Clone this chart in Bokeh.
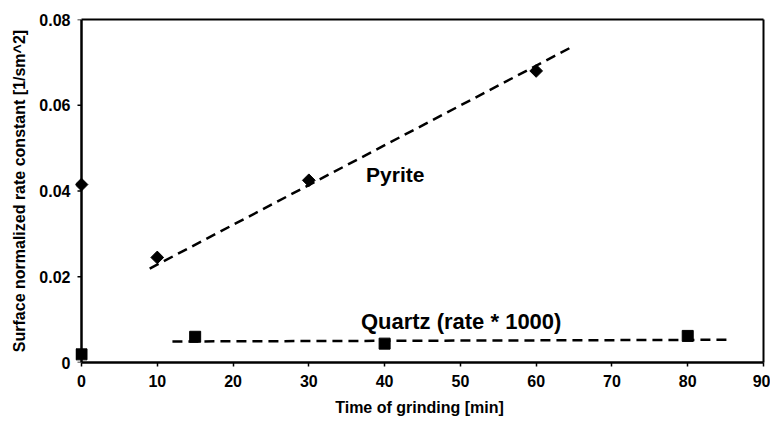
import math
from bokeh.plotting import figure
from bokeh.models import Range1d, Label, FixedTicker, LinearAxis, Span
from bokeh.embed import file_html
from bokeh.resources import INLINE

# Grinding time [min] and surface-normalized rate constants
pyrite_t = [0, 10, 30, 60]
pyrite_k = [0.0415, 0.0245, 0.0425, 0.068]

quartz_t = [0, 15, 40, 80]
quartz_k = [0.0019, 0.0060, 0.0044, 0.0062]

# Linear trend lines (end points)
pyrite_fit_t = [9, 64.6]
pyrite_fit_k = [0.0219, 0.0735]
quartz_fit_t = [12, 85.5]
quartz_fit_k = [0.0049, 0.0053]

x_ticks = [0, 10, 20, 30, 40, 50, 60, 70, 80, 90]
y_ticks = [0, 0.02, 0.04, 0.06, 0.08]
y_tick_labels = {0: "0", 0.02: "0.02", 0.04: "0.04", 0.06: "0.06", 0.08: "0.08"}

X_MIN, X_MAX = 0, 90
Y_MIN, Y_MAX = 0, 0.08

FONT = "Liberation Sans"

# The frame reaches a little left of t = 0 so the markers sitting on the
# vertical axis are drawn whole; the drawn axes start at t = 0.
p = figure(width=770, height=421, output_backend="svg", toolbar_location=None,
           x_range=Range1d(-0.792, X_MAX), y_range=Range1d(Y_MIN, Y_MAX),
           min_border_left=75, min_border_right=7, min_border_top=19, min_border_bottom=59)
p.background_fill_color = "white"
p.border_fill_color = "white"
p.outline_line_color = None
p.xgrid.visible = False
p.ygrid.visible = False

for ax in (p.xaxis[0], p.yaxis[0]):
    ax.axis_line_color = "black"
    ax.axis_line_width = 2.5
    ax.major_tick_line_color = "black"
    ax.major_tick_line_width = 1.5
    ax.major_tick_out = 4
    ax.major_tick_in = 0
    ax.minor_tick_line_color = None
    ax.major_label_text_font = FONT
    ax.major_label_text_font_style = "bold"
    ax.major_label_text_font_size = "16px"
    ax.major_label_text_color = "black"
    ax.axis_label_text_font = FONT
    ax.axis_label_text_font_style = "bold"
    ax.axis_label_text_color = "black"

p.xaxis.bounds = (X_MIN, X_MAX)
p.xaxis.ticker = FixedTicker(ticks=x_ticks)
p.xaxis.major_label_standoff = 8
p.xaxis.axis_label = "Time of grinding [min]"
p.xaxis.axis_label_text_font_size = "16px"
p.xaxis.axis_label_standoff = 9

# Left axis carries only the tick labels and the title
p.yaxis.ticker = FixedTicker(ticks=y_ticks)
p.yaxis.major_label_overrides = y_tick_labels
p.yaxis.axis_line_color = None
p.yaxis.major_tick_line_color = None
p.yaxis.major_tick_out = 0
p.yaxis.major_label_standoff = 5
p.yaxis.axis_label = "Surface normalized rate constant [1/sm^2]"
p.yaxis.axis_label_text_font_size = "16px"
p.yaxis.axis_label_standoff = 8

# Vertical axis line at t = 0 with outward ticks
p.add_layout(Span(location=X_MIN, dimension="height", line_color="black", line_width=2.5))
p.ray(x=[X_MIN] * len(y_ticks), y=y_ticks, length=4, length_units="screen",
      angle=math.pi, line_color="black", line_width=1.5)

# Top and right edges of the plot box
for side in ("above", "right"):
    edge = LinearAxis(ticker=FixedTicker(ticks=[]), axis_line_color="black",
                      axis_line_width=2, major_tick_line_color=None,
                      minor_tick_line_color=None, major_label_standoff=0)
    if side == "above":
        edge.bounds = (X_MIN, X_MAX)
    p.add_layout(edge, side)

# Trend lines
p.line(pyrite_fit_t, pyrite_fit_k, line_color="black", line_width=2.5, line_dash="10 6")
p.line(quartz_fit_t, quartz_fit_k, line_color="black", line_width=2.5, line_dash="10 6")

# Measured points
p.scatter(pyrite_t, pyrite_k, marker="square", size=9, angle=math.pi / 4,
          fill_color="black", line_color="black")
p.scatter(quartz_t, quartz_k, marker="square", size=11, fill_color="black", line_color="black")

p.add_layout(Label(x=41.4, y=0.0439, text="Pyrite", text_font=FONT, text_font_style="bold",
                   text_font_size="21px", text_align="center", text_baseline="middle",
                   text_color="black"))
p.add_layout(Label(x=50.1, y=0.0096, text="Quartz (rate * 1000)", text_font=FONT,
                   text_font_style="bold", text_font_size="22px", text_align="center",
                   text_baseline="middle", text_color="black"))

open("out.html", "w").write(file_html(p, INLINE))
